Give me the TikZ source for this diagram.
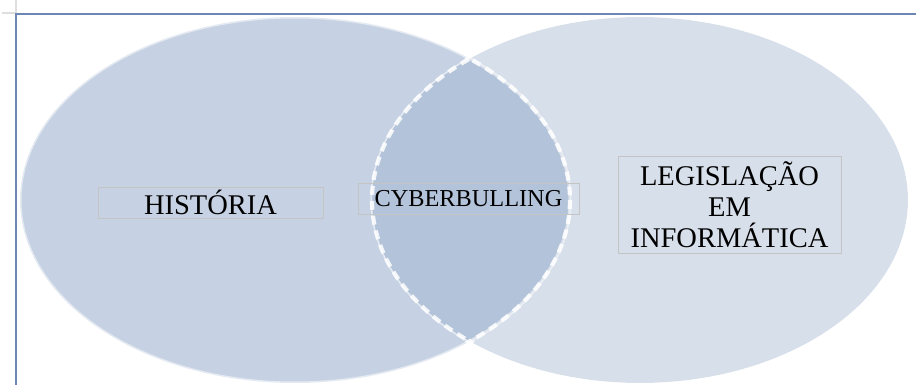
\documentclass[tikz,border=0pt]{standalone}
\usepackage{fontspec}
\setmainfont{Liberation Serif}
\begin{document}
\begin{tikzpicture}[x=1pt,y=-1pt,
  setleft/.style={fill=leftfill},
  setright/.style={fill=rightfill},
  rim/.style={draw=white,draw opacity=0.55,line width=3pt},
  lensborder/.style={draw=white,draw opacity=0.85,line width=4.2pt,dash pattern=on 9pt off 6pt},
  label/.style={draw=boxgray,line width=0.8pt,inner sep=0pt,align=center,text=black},
  frame/.style={draw=framblue,line width=2pt},
  tick/.style={draw=black!13,line width=2.5pt}]
\definecolor{leftfill}{HTML}{C6D2E3}
\definecolor{rightfill}{HTML}{D7DFEA}
\definecolor{lensfill}{HTML}{B3C3D9}
\definecolor{boxgray}{HTML}{C4C4C4}
\definecolor{framblue}{HTML}{6E86B4}
\useasboundingbox (0,0) rectangle (916,385);

% page corner marks and margin lines
\draw[tick] (16,0) -- (16,14);
\draw[tick] (2,13) -- (16,13);
\draw[frame] (15,14.5) -- (916,14.5);
\draw[frame] (15.5,14) -- (15.5,385);

% the two sets
\path[setleft] (295,200) ellipse [x radius=275, y radius=183];
\path[setright] (640,200) ellipse [x radius=268, y radius=183];
% overlap of the two sets
\begin{scope}
  \clip (295,200) ellipse [x radius=275, y radius=183];
  \fill[lensfill] (640,200) ellipse [x radius=268, y radius=183];
\end{scope}
% soft rims
\begin{scope}
  \clip (0,0) rectangle (916,385);
  \path[rim] (295,200) ellipse [x radius=275, y radius=183];
  \begin{scope}
    \clip (640,200) ellipse [x radius=268, y radius=183] (-10,-10) rectangle (930,400);
    \path[rim] (640,200) ellipse [x radius=268, y radius=183];
  \end{scope}
\end{scope}
% dashed outline of the overlap
\begin{scope}
  \clip (295,200) ellipse [x radius=278, y radius=186];
  \path[lensborder] (640,200) ellipse [x radius=268, y radius=183];
\end{scope}
\begin{scope}
  \clip (640,200) ellipse [x radius=271, y radius=186];
  \path[lensborder] (295,200) ellipse [x radius=275, y radius=183];
\end{scope}

% labels
\node[label,minimum width=225pt,minimum height=31pt,font=\fontsize{28.5}{31}\selectfont]
  (hist) at (210.5,202.5) {HISTÓRIA};
\node[label,minimum width=221pt,minimum height=31pt,font=\fontsize{24.3}{28}\selectfont]
  (cyber) at (468.5,198.5) {CYBERBULLING};
\node[label,minimum width=223pt,minimum height=97pt,font=\fontsize{28.5}{31}\selectfont]
  (legis) at (729.5,204.5) {LEGISLAÇÃO\\EM\\INFORMÁTICA};
\end{tikzpicture}
\end{document}
